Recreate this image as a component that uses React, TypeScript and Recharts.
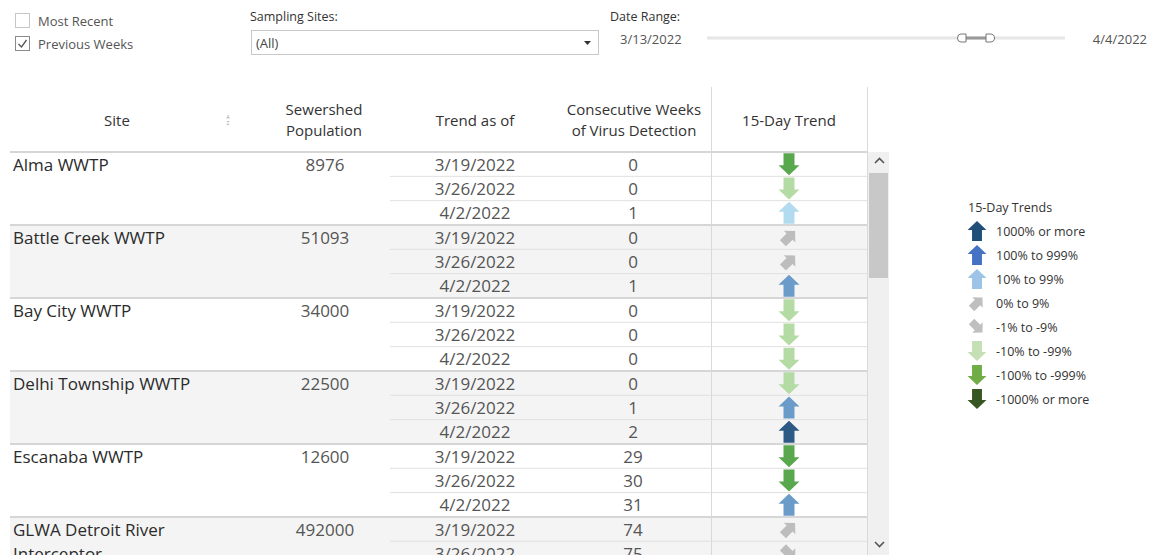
import React from 'react';
import { ScatterChart, Scatter, XAxis, YAxis, ReferenceArea } from 'recharts';

// trend buckets, top to bottom as in the legend
const trendLevels = [
  '1000% or more',
  '100% to 999%',
  '10% to 99%',
  '0% to 9%',
  '-1% to -9%',
  '-10% to -99%',
  '-100% to -999%',
  '-1000% or more',
];
const tableColors = ['#2c5a85', '#6b9bc9', '#b3dbf0', '#bdbdbd', '#bdbdbd', '#b5dba5', '#5aa84e', '#2f5a27'];
const legendColors = ['#1f4e79', '#4472c4', '#9dc3e6', '#bfbfbf', '#bfbfbf', '#c5e0b4', '#70ad47', '#375623'];

const sites = ['Alma WWTP', 'Battle Creek WWTP', 'Bay City WWTP', 'Delhi Township WWTP', 'Escanaba WWTP', 'GLWA Detroit River Interceptor'];
const populations = [8976, 51093, 34000, 22500, 12600, 492000];

// one entry per visible table row
const rowSite = [0, 0, 0, 1, 1, 1, 2, 2, 2, 3, 3, 3, 4, 4, 4, 5, 5];
const rowDate = [
  '3/19/2022', '3/26/2022', '4/2/2022',
  '3/19/2022', '3/26/2022', '4/2/2022',
  '3/19/2022', '3/26/2022', '4/2/2022',
  '3/19/2022', '3/26/2022', '4/2/2022',
  '3/19/2022', '3/26/2022', '4/2/2022',
  '3/19/2022', '3/26/2022',
];
const rowWeeks = [0, 0, 1, 0, 0, 1, 0, 0, 0, 0, 1, 2, 29, 30, 31, 74, 75];
const rowTrend = [6, 5, 2, 3, 3, 1, 5, 5, 5, 5, 1, 0, 6, 6, 1, 3, 4];

const rows = rowSite.map((s, i) => ({
  key: `${sites[s]}|${rowDate[i]}`,
  col: '15-Day Trend',
  site: s,
  date: rowDate[i],
  weeks: rowWeeks[i],
  trend: rowTrend[i],
}));

const FONT = '"Open Sans", sans-serif';
const ROW_H = 24.33;
const TOP = 152;
const CHART_H = Math.ceil(TOP + rows.length * ROW_H + 10);
const SHADE = '#f4f4f4';

const UP = 'M0,-11 L10.5,-1 L5.5,-1 L5.5,11 L-5.5,11 L-5.5,-1 L-10.5,-1 Z';

function arrowPath(cx: number, cy: number, level: number, color: string, s = 1) {
  let rot = 180;
  if (level <= 2) rot = 0;
  else if (level === 3) rot = 45;
  else if (level === 4) rot = 135;
  const sc = (level === 3 || level === 4 ? 0.78 : 1) * s;
  return <path d={UP} fill={color} transform={`translate(${cx},${cy}) rotate(${rot}) scale(${sc})`} />;
}

const TrendArrow = (props: any) => {
  const { cx, cy, payload } = props;
  return arrowPath(cx, cy, payload.trend, tableColors[payload.trend]);
};

// draws the text columns of each row (site, population, date, weeks) at the row's band
const RowTick = (props: any) => {
  const { y, payload } = props;
  const i = rows.findIndex((r) => r.key === payload.value);
  if (i < 0) return null;
  const r = rows[i];
  const top = y - ROW_H / 2;
  const first = i === 0 || rows[i - 1].site !== r.site;
  const words = sites[r.site].length > 22 ? ['GLWA Detroit River', 'Interceptor'] : [sites[r.site]];
  return (
    <g>
      {first && <rect x={10} y={top} width={701} height={3 * ROW_H} fill={r.site % 2 ? SHADE : '#ffffff'} />}
      {first ? (
        <line x1={10} x2={867} y1={top} y2={top} stroke="#d6d6d6" strokeWidth={2} />
      ) : (
        <line x1={390} x2={867} y1={top} y2={top} stroke="#e0e0e0" strokeWidth={1} />
      )}
      <line x1={711.5} x2={711.5} y1={top} y2={top + ROW_H} stroke="#d9d9d9" />
      {first &&
        words.map((w, k) => (
          <text key={k} x={13} y={y + k * ROW_H} dominantBaseline="central" fontSize={17} fill="#2b2b2b" fontFamily={FONT}>
            {w}
          </text>
        ))}
      {first && (
        <text x={325} y={y} textAnchor="middle" dominantBaseline="central" fontSize={17} fill="#555" fontFamily={FONT}>
          {populations[r.site]}
        </text>
      )}
      <text x={475} y={y} textAnchor="middle" dominantBaseline="central" fontSize={17} fill="#555" fontFamily={FONT}>
        {r.date}
      </text>
      <text x={633} y={y} textAnchor="middle" dominantBaseline="central" fontSize={17} fill="#555" fontFamily={FONT}>
        {r.weeks}
      </text>
    </g>
  );
};

const headers = [
  { x: 117, lines: ['Site'] },
  { x: 324, lines: ['Sewershed', 'Population'] },
  { x: 475, lines: ['Trend as of'] },
  { x: 634, lines: ['Consecutive Weeks', 'of Virus Detection'] },
  { x: 789, lines: ['15-Day Trend'] },
];

// shaded site blocks in the trend column
const shadedSites = sites.map((_, s) => s).filter((s) => s % 2 === 1);

export default function App() {
  return (
    <div style={{ position: 'fixed', left: 0, top: 0, width: 1161, height: 555, overflow: 'hidden', background: '#fff' }}>
      <div style={{ position: 'absolute', left: 0, top: 0 }}>
        <ScatterChart width={1161} height={CHART_H} margin={{ top: TOP, right: 1161 - 867, bottom: CHART_H - TOP - rows.length * ROW_H, left: 710 }}>
          <XAxis type="category" dataKey="col" allowDuplicatedCategory={false} hide />
          <YAxis
            type="category"
            dataKey="key"
            reversed
            width={1}
            interval={0}
            tickLine={false}
            axisLine={false}
            tick={<RowTick />}
          />
          {shadedSites.map((s) => {
            const keys = rows.filter((r) => r.site === s).map((r) => r.key);
            return (
              <ReferenceArea key={s} y1={keys[0]} y2={keys[keys.length - 1]} fill={SHADE} fillOpacity={1} stroke="none" ifOverflow="visible" />
            );
          })}
          <Scatter data={rows} shape={<TrendArrow />} isAnimationActive={false} />
        </ScatterChart>
      </div>
      <svg width={1161} height={555} style={{ position: 'absolute', left: 0, top: 0, pointerEvents: 'none' }} fontFamily={FONT}>
        {/* filters */}
        <rect x={15.5} y={13.5} width={14} height={14} fill="#fff" stroke="#c6c6c6" />
        <text x={38} y={21} dominantBaseline="central" fontSize={13} fill="#555">Most Recent</text>
        <rect x={15.5} y={36.5} width={14} height={14} fill="#fff" stroke="#8a8a8a" />
        <path d="M18.5,44 L21.5,47 L26.5,40" fill="none" stroke="#555" strokeWidth={1.3} />
        <text x={38} y={43.5} dominantBaseline="central" fontSize={13} fill="#555">Previous Weeks</text>

        <text x={250} y={16} dominantBaseline="central" fontSize={12.5} fill="#333">Sampling Sites:</text>
        <rect x={251.5} y={30.5} width={347} height={24} fill="#fff" stroke="#c8c8c8" />
        <text x={256} y={43} dominantBaseline="central" fontSize={13} fill="#444">(All)</text>
        <path d="M584,41 L591,41 L587.5,45 Z" fill="#333" />

        <text x={610} y={16} dominantBaseline="central" fontSize={12.5} fill="#333">Date Range:</text>
        <text x={620} y={39} dominantBaseline="central" fontSize={13} fill="#555">3/13/2022</text>
        <text x={1147} y={39} textAnchor="end" dominantBaseline="central" fontSize={13} fill="#555">4/4/2022</text>
        <rect x={707} y={36.5} width={358} height={3} fill="#e6e6e6" />
        <rect x={965} y={36.5} width={22} height={3} fill="#9a9a9a" />
        <path d="M966,34 L961,34 Q957.5,34 957.5,38 Q957.5,42 961,42 L966,42 Z" fill="#fff" stroke="#777" />
        <path d="M986,34 L990,34 Q994.5,34 994.5,38 Q994.5,42 990,42 L986,42 Z" fill="#fff" stroke="#777" />

        {/* column headers */}
        {headers.map((h, i) =>
          h.lines.map((l, k) => (
            <text
              key={`${i}-${k}`}
              x={h.x}
              y={h.lines.length === 1 ? 120 : 109 + k * 21}
              textAnchor="middle"
              dominantBaseline="central"
              fontSize={15}
              fill="#333"
            >
              {l}
            </text>
          )),
        )}
        <text x={228} y={117} textAnchor="middle" dominantBaseline="central" fontSize={5} fill="#999">A</text>
        <text x={228} y={123} textAnchor="middle" dominantBaseline="central" fontSize={5} fill="#999">Z</text>
        <line x1={711.5} x2={711.5} y1={87} y2={152} stroke="#d9d9d9" />
        <line x1={867.5} x2={867.5} y1={87} y2={555} stroke="#d9d9d9" />

        {/* scrollbar */}
        <rect x={868} y={152} width={21} height={403} fill="#f0f0f0" />
        <rect x={869} y={173} width={19} height={105} fill="#c8c8c8" />
        <path d="M875,163 L879.5,158.5 L884,163" fill="none" stroke="#555" strokeWidth={1.6} />
        <path d="M875,542 L879.5,546.5 L884,542" fill="none" stroke="#555" strokeWidth={1.6} />

        {/* legend */}
        <text x={968} y={207} dominantBaseline="central" fontSize={12.5} fill="#333">15-Day Trends</text>
        {trendLevels.map((t, i) => (
          <g key={t}>
            {arrowPath(977, 231 + i * 24, i, legendColors[i], 0.9)}
            <text x={996} y={231 + i * 24} dominantBaseline="central" fontSize={12.5} fill="#333">{t}</text>
          </g>
        ))}
      </svg>
    </div>
  );
}
